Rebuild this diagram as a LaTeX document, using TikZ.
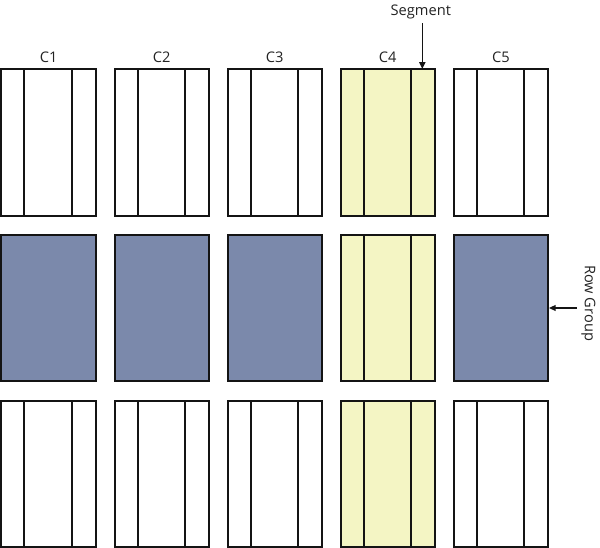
\documentclass[tikz,border=0pt]{standalone}
\usepackage{fontspec}
\setmainfont{Open Sans}
\usetikzlibrary{arrows.meta}

\tikzset{every picture/.style={line width=0.75pt}}
\tikzset{
  plainbox/.style={draw={rgb, 255:red, 20; green, 20; blue, 20 }, line width=1.5pt, fill=white},
  rowbox/.style={draw={rgb, 255:red, 20; green, 20; blue, 20 }, line width=1.5pt, fill={rgb, 255:red, 123; green, 137; blue, 171 }},
  segbox/.style={draw={rgb, 255:red, 20; green, 20; blue, 20 }, line width=1.5pt, fill={rgb, 255:red, 244; green, 245; blue, 196 }},
  segline/.style={draw={rgb, 255:red, 20; green, 20; blue, 20 }, line width=1.5pt},
  lbl/.style={text={rgb, 255:red, 35; green, 35; blue, 35 }, font=\fontsize{11}{13}\selectfont},
  ptr/.style={draw={rgb, 255:red, 20; green, 20; blue, 20 }, line width=1.1pt, -{Triangle[length=5pt,width=4.5pt]}}
}

\begin{document}
\begin{tikzpicture}[x=0.75pt,y=0.75pt,yscale=-1,xscale=1]
		\path (0,0) rectangle (600,547); %set diagram size 600 x 547

		%top row
		\draw [plainbox] (1.5,68) rectangle (96,214.5) ;
		\draw [segline] (24,68) -- (24,214.5) (72,68) -- (72,214.5) ;
		\draw [plainbox] (114.8,68) rectangle (209.3,214.5) ;
		\draw [segline] (138,68) -- (138,214.5) (185.3,68) -- (185.3,214.5) ;
		\draw [plainbox] (228,68) rectangle (322.5,214.5) ;
		\draw [segline] (251,68) -- (251,214.5) (298.5,68) -- (298.5,214.5) ;
		\draw [segbox] (341.2,68) rectangle (435.7,214.5) ;
		\draw [segline] (364.5,68) -- (364.5,214.5) (411.7,68) -- (411.7,214.5) ;
		\draw [plainbox] (454.5,68) rectangle (549,214.5) ;
		\draw [segline] (478,68) -- (478,214.5) (525,68) -- (525,214.5) ;

		%row group
		\draw [rowbox] (1.5,234) rectangle (96,380.5) ;
		\draw [rowbox] (114.8,234) rectangle (209.3,380.5) ;
		\draw [rowbox] (228,234) rectangle (322.5,380.5) ;
		\draw [segbox] (341.2,234) rectangle (435.7,380.5) ;
		\draw [segline] (364.5,234) -- (364.5,380.5) (411.7,234) -- (411.7,380.5) ;
		\draw [rowbox] (454.5,234) rectangle (549,380.5) ;

		%bottom row
		\draw [plainbox] (1.5,400) rectangle (96,546) ;
		\draw [segline] (24,400) -- (24,546) (72,400) -- (72,546) ;
		\draw [plainbox] (114.8,400) rectangle (209.3,546) ;
		\draw [segline] (138,400) -- (138,546) (185.3,400) -- (185.3,546) ;
		\draw [plainbox] (228,400) rectangle (322.5,546) ;
		\draw [segline] (251,400) -- (251,546) (298.5,400) -- (298.5,546) ;
		\draw [segbox] (341.2,400) rectangle (435.7,546) ;
		\draw [segline] (364.5,400) -- (364.5,546) (411.7,400) -- (411.7,546) ;
		\draw [plainbox] (454.5,400) rectangle (549,546) ;
		\draw [segline] (478,400) -- (478,546) (525,400) -- (525,546) ;

		%labels
		\draw (48.75,56) node [lbl] (c1) {C1};
		\draw (162.05,56) node [lbl] (c2) {C2};
		\draw (275.25,56) node [lbl] (c3) {C3};
		\draw (388.45,56) node [lbl] (c4) {C4};
		\draw (501.75,56) node [lbl] (c5) {C5};
		\draw (421.5,10) node [lbl] (segment) {Segment};
		\draw (589.5,302) node [lbl,rotate=-90] (rowgroup) {Row Group};

		\coordinate (segtop) at (423,67.5);
		\coordinate (rgend) at (550,307);
		\draw [ptr] (segment.south -| segtop) -- (segtop) ;
		\draw [ptr] (rowgroup.south |- rgend) -- (rgend) ;

\end{tikzpicture}
\end{document}
